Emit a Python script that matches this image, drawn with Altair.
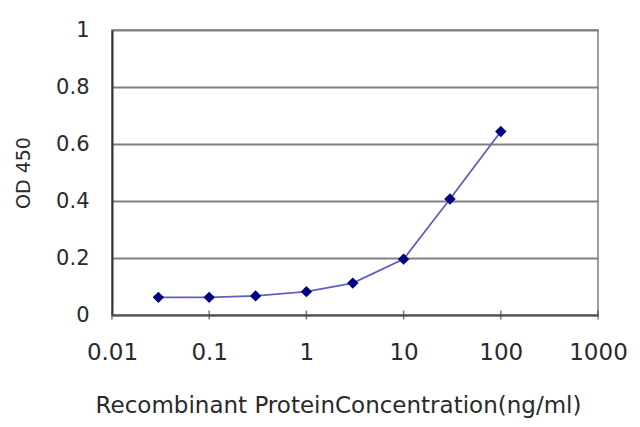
import altair as alt
import pandas as pd

conc = [0.03, 0.1, 0.3, 1, 3, 10, 30, 100]
od = [0.062, 0.062, 0.067, 0.082, 0.112, 0.196, 0.407, 0.644]
x_ticks = [0.01, 0.1, 1, 10, 100, 1000]
y_ticks = [0, 0.2, 0.4, 0.6, 0.8, 1]

df = pd.DataFrame({"conc": conc, "od": od})
ticks_df = pd.DataFrame({"t": x_ticks, "zero": [0] * len(x_ticks)})

FONT = "DejaVu Sans"

x_enc = alt.X(
    "conc:Q",
    scale=alt.Scale(type="log", domain=[0.01, 1000]),
    axis=alt.Axis(
        values=x_ticks, format="~g", title="Recombinant ProteinConcentration(ng/ml)",
        grid=False, tickSize=0, labelPadding=26, labelFontSize=23, labelFont=FONT,
        labelColor="#2a2a2a", titleFont=FONT, titleFontSize=23, titleFontWeight="normal",
        titleColor="#2a2a2a", titlePadding=30, domainColor="#555555", domainWidth=2,
        labelFlush=False, titleX=226,
    ),
)
y_enc = alt.Y(
    "od:Q",
    scale=alt.Scale(domain=[0, 1]),
    axis=alt.Axis(
        values=y_ticks, format="~g", title="OD 450", grid=True, gridColor="#808080",
        gridWidth=2, tickSize=0, labelPadding=23, labelFontSize=21, labelFont=FONT,
        labelColor="#2a2a2a", titleFont=FONT, titleFontSize=19, titleFontWeight="normal",
        titleColor="#2a2a2a", titlePadding=22, domainColor="#333333", domainWidth=2,
    ),
)

line = alt.Chart(df).mark_line(color="#5f5fbf", strokeWidth=1.8).encode(x=x_enc, y=y_enc)
pts = alt.Chart(df).mark_point(shape="diamond", filled=True, color="#000080", size=130, opacity=1).encode(
    x="conc:Q", y="od:Q"
)
tk = alt.Chart(ticks_df).mark_tick(orient="vertical", size=9, thickness=1.5, color="#444444").encode(
    x="t:Q", y="zero:Q"
)

chart = (
    alt.layer(line, tk, pts)
    .properties(
        width=486, height=285,
        autosize=alt.AutoSizeParams(type="none"),
        padding={"left": 104, "top": 22, "right": 34, "bottom": 112},
        background="white",
    )
    .configure_view(stroke="#a0a0a0", strokeWidth=2)
)

chart.save("out.html", embed_options={"renderer": "svg", "actions": False})
